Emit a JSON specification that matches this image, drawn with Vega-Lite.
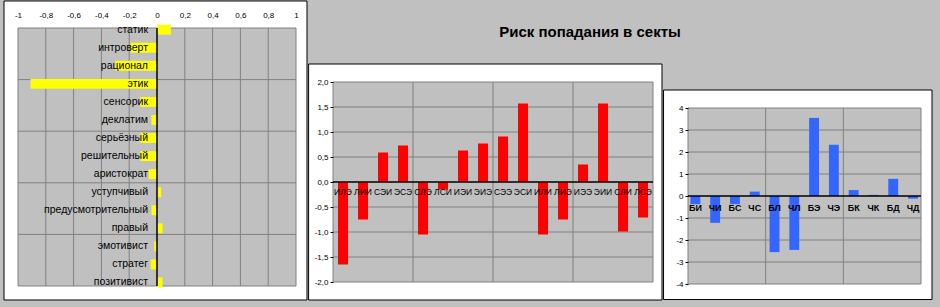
{
  "$schema": "https://vega.github.io/schema/vega-lite/v6.json",
  "background": "#c0c0c0",
  "padding": 0,
  "bounds": "flush",
  "spacing": 0,
  "config": {
    "view": {"stroke": null},
    "font": "Liberation Sans",
    "axis": {"labelFont": "Liberation Sans", "labelColor": "#000000", "labelFontSize": 8, "grid": false, "domain": false}
  },
  "datasets": {
    "traits": [
      {"trait": "статик", "v": 0.10},
      {"trait": "интроверт", "v": -0.19},
      {"trait": "рационал", "v": -0.30},
      {"trait": "этик", "v": -0.91},
      {"trait": "сенсорик", "v": -0.12},
      {"trait": "деклатим", "v": -0.04},
      {"trait": "серьёзный", "v": -0.12},
      {"trait": "решительный", "v": -0.12},
      {"trait": "аристократ", "v": -0.06},
      {"trait": "уступчивый", "v": 0.03},
      {"trait": "предусмотрительный", "v": -0.04},
      {"trait": "правый", "v": 0.04},
      {"trait": "эмотивист", "v": -0.02},
      {"trait": "стратег", "v": -0.045},
      {"trait": "позитивист", "v": 0.04}
    ],
    "socio": [
      {"t": "ИЛЭ", "v": -1.65},
      {"t": "ЛИИ", "v": -0.75},
      {"t": "СЭИ", "v": 0.59},
      {"t": "ЭСЭ", "v": 0.73},
      {"t": "СЛЭ", "v": -1.05},
      {"t": "ЛСИ", "v": -0.15},
      {"t": "ИЭИ", "v": 0.63},
      {"t": "ЭИЭ", "v": 0.77},
      {"t": "СЭЭ", "v": 0.91},
      {"t": "ЭСИ", "v": 1.57},
      {"t": "ИЛИ", "v": -1.05},
      {"t": "ЛИЭ", "v": -0.75},
      {"t": "ИЭЭ", "v": 0.35},
      {"t": "ЭИИ", "v": 1.57},
      {"t": "СЛИ", "v": -0.99},
      {"t": "ЛСЭ", "v": -0.71}
    ],
    "dich": [
      {"d": "БИ", "v": -0.37},
      {"d": "ЧИ", "v": -1.22},
      {"d": "БС", "v": -0.37},
      {"d": "ЧС", "v": 0.2},
      {"d": "БЛ", "v": -2.55},
      {"d": "ЧЛ", "v": -2.45},
      {"d": "БЭ", "v": 3.55},
      {"d": "ЧЭ", "v": 2.33},
      {"d": "БК", "v": 0.27},
      {"d": "ЧК", "v": 0.05},
      {"d": "БД", "v": 0.78},
      {"d": "ЧД", "v": -0.12}
    ]
  },
  "hconcat": [
    {
      "width": 308,
      "height": 307,
      "layer": [
        {
          "data": {"values": [{}]},
          "layer": [
            {
              "mark": {"type": "rect", "fill": "#ffffff", "stroke": "#000000", "strokeWidth": 1},
              "encoding": {
                "x": {"datum": -1.1007, "type": "quantitative", "scale": {"domain": [-1.1295, 1.0863], "nice": false, "zero": false}},
                "x2": {"datum": 1.0791},
                "y": {"datum": -0.814, "type": "quantitative", "scale": {"domain": [-1.221, 16.628], "nice": false, "zero": false}, "axis": null},
                "y2": {"datum": 16.57}
              }
            },
            {
              "mark": {"type": "rect", "fill": "#c0c0c0", "stroke": "#808080", "strokeWidth": 1},
              "encoding": {
                "x": {"datum": -1, "type": "quantitative", "scale": {"domain": [-1.1295, 1.0863], "nice": false, "zero": false}},
                "x2": {"datum": 1},
                "y": {"datum": 0, "type": "quantitative", "scale": {"domain": [-1.221, 16.628], "nice": false, "zero": false}, "axis": null},
                "y2": {"datum": 15}
              }
            },
            {
              "data": {"values": [{"g": -0.8}, {"g": -0.6}, {"g": -0.4}, {"g": -0.2}, {"g": 0.2}, {"g": 0.4}, {"g": 0.6}, {"g": 0.8}]},
              "mark": {"type": "rule", "stroke": "#808080", "strokeWidth": 1},
              "encoding": {
                "x": {"field": "g", "type": "quantitative", "scale": {"domain": [-1.1295, 1.0863], "nice": false, "zero": false}},
                "y": {"datum": 0, "type": "quantitative", "scale": {"domain": [-1.221, 16.628], "nice": false, "zero": false}, "axis": null},
                "y2": {"datum": 15}
              }
            },
            {
              "data": {"values": [{"g": 3}, {"g": 6}, {"g": 9}, {"g": 12}]},
              "mark": {"type": "rule", "stroke": "#808080", "strokeWidth": 1},
              "encoding": {
                "y": {"field": "g", "type": "quantitative", "scale": {"domain": [-1.221, 16.628], "nice": false, "zero": false}, "axis": null},
                "x": {"datum": -1, "type": "quantitative", "scale": {"domain": [-1.1295, 1.0863], "nice": false, "zero": false}},
                "x2": {"datum": 1}
              }
            }
          ]
        },
        {
          "data": {"name": "traits"},
          "layer": [
            {
              "mark": {"type": "bar", "color": "#ffff00", "height": {"band": 0.55}},
              "encoding": {
                "y": {"field": "trait", "type": "nominal", "sort": null, "scale": {"paddingInner": 0, "paddingOuter": 1.4244, "align": 0.5714}, "axis": null},
                "x": {
                  "field": "v", "type": "quantitative",
                  "scale": {"domain": [-1.1295, 1.0863], "nice": false, "zero": false},
                  "axis": {
                    "orient": "top", "offset": -21, "ticks": false, "labelPadding": 2, "zindex": 2, "title": null,
                    "labelOverlap": false, "labelFlush": false, "labelBound": false, "tickCount": 30,
                    "values": [-1, -0.8, -0.6, -0.4, -0.2, 0, 0.2, 0.4, 0.6, 0.8, 1],
                    "labelExpr": "replace(replace(format(datum.value, '.1~f'), '.', ','), '−', '-')"
                  }
                }
              }
            },
            {
              "mark": {"type": "text", "align": "right", "baseline": "middle", "dx": -9, "fontSize": 10.5, "color": "#000000", "font": "Liberation Sans"},
              "encoding": {
                "y": {"field": "trait", "type": "nominal", "sort": null, "scale": {"paddingInner": 0, "paddingOuter": 1.4244, "align": 0.5714}, "axis": null},
                "x": {"datum": 0, "type": "quantitative", "scale": {"domain": [-1.1295, 1.0863], "nice": false, "zero": false}},
                "text": {"field": "trait"}
              }
            }
          ]
        },
        {
          "data": {"values": [{}]},
          "mark": {"type": "rule", "stroke": "#000000", "strokeWidth": 1.5},
          "encoding": {
            "x": {"datum": 0, "type": "quantitative", "scale": {"domain": [-1.1295, 1.0863], "nice": false, "zero": false}},
            "y": {"datum": 0, "type": "quantitative", "scale": {"domain": [-1.221, 16.628], "nice": false, "zero": false}, "axis": null},
            "y2": {"datum": 15}
          }
        }
      ],
      "resolve": {"scale": {"y": "independent"}}
    },
    {
      "width": 355,
      "height": 307,
      "title": {"text": "Риск попадания в секты", "fontSize": 15, "fontWeight": "bold", "font": "Liberation Sans", "color": "#000000", "anchor": "middle", "frame": "group", "dx": 104.5, "offset": -40},
      "layer": [
        {
          "data": {"values": [{}]},
          "layer": [
            {
              "mark": {"type": "rect", "fill": "#ffffff", "stroke": "#000000", "strokeWidth": 1},
              "encoding": {
                "x": {"datum": -1.22, "type": "quantitative", "scale": {"domain": [-1.25, 16.5], "nice": false, "zero": false}, "axis": null},
                "x2": {"datum": 16.45},
                "y": {"datum": -2.36, "type": "quantitative", "scale": {"domain": [-2.5, 3.64], "nice": false, "zero": false}},
                "y2": {"datum": 2.36}
              }
            },
            {
              "mark": {"type": "rect", "fill": "#c0c0c0", "stroke": "#808080", "strokeWidth": 1},
              "encoding": {
                "x": {"datum": 0, "type": "quantitative", "scale": {"domain": [-1.25, 16.5], "nice": false, "zero": false}, "axis": null},
                "x2": {"datum": 16},
                "y": {"datum": -2, "type": "quantitative", "scale": {"domain": [-2.5, 3.64], "nice": false, "zero": false}},
                "y2": {"datum": 2}
              }
            },
            {
              "data": {"values": [{"g": 4}, {"g": 8}, {"g": 12}]},
              "mark": {"type": "rule", "stroke": "#808080", "strokeWidth": 1},
              "encoding": {
                "x": {"field": "g", "type": "quantitative", "scale": {"domain": [-1.25, 16.5], "nice": false, "zero": false}, "axis": null},
                "y": {"datum": -2, "type": "quantitative", "scale": {"domain": [-2.5, 3.64], "nice": false, "zero": false}},
                "y2": {"datum": 2}
              }
            },
            {
              "data": {"values": [{"g": -1.5}, {"g": -1}, {"g": -0.5}, {"g": 0.5}, {"g": 1}, {"g": 1.5}]},
              "mark": {"type": "rule", "stroke": "#808080", "strokeWidth": 1},
              "encoding": {
                "y": {"field": "g", "type": "quantitative", "scale": {"domain": [-2.5, 3.64], "nice": false, "zero": false}},
                "x": {"datum": 0, "type": "quantitative", "scale": {"domain": [-1.25, 16.5], "nice": false, "zero": false}, "axis": null},
                "x2": {"datum": 16}
              }
            }
          ]
        },
        {
          "data": {"name": "socio"},
          "layer": [
            {
              "mark": {"type": "bar", "color": "#ff0000", "width": {"band": 0.5}},
              "encoding": {
                "x": {"field": "t", "type": "nominal", "sort": null, "scale": {"paddingInner": 0, "paddingOuter": 0.875, "align": 0.7143}, "axis": null},
                "y": {
                  "field": "v", "type": "quantitative",
                  "scale": {"domain": [-2.5, 3.64], "nice": false, "zero": false},
                  "axis": {
                    "orient": "left", "offset": -25, "ticks": true, "tickSize": 3, "tickColor": "#000000", "labelPadding": 2, "zindex": 2, "title": null,
                    "labelOverlap": false, "labelFlush": false, "labelBound": false, "tickCount": 30,
                    "values": [-2, -1.5, -1, -0.5, 0, 0.5, 1, 1.5, 2],
                    "labelExpr": "replace(replace(format(datum.value, '.1f'), '.', ','), '−', '-')"
                  }
                }
              }
            },
            {
              "mark": {"type": "text", "align": "center", "baseline": "top", "dy": 6, "fontSize": 8.5, "color": "#000000", "font": "Liberation Sans"},
              "encoding": {
                "x": {"field": "t", "type": "nominal", "sort": null, "scale": {"paddingInner": 0, "paddingOuter": 0.875, "align": 0.7143}, "axis": null},
                "y": {"datum": 0, "type": "quantitative", "scale": {"domain": [-2.5, 3.64], "nice": false, "zero": false}},
                "text": {"field": "t"}
              }
            }
          ]
        },
        {
          "data": {"values": [{}]},
          "mark": {"type": "rule", "stroke": "#000000", "strokeWidth": 1.5},
          "encoding": {
            "x": {"datum": 0, "type": "quantitative", "scale": {"domain": [-1.25, 16.5], "nice": false, "zero": false}, "axis": null},
            "x2": {"datum": 16},
            "y": {"datum": 0, "type": "quantitative", "scale": {"domain": [-2.5, 3.64], "nice": false, "zero": false}}
          }
        }
      ],
      "resolve": {"scale": {"x": "independent"}}
    },
    {
      "width": 277,
      "height": 307,
      "layer": [
        {
          "data": {"values": [{}]},
          "layer": [
            {
              "mark": {"type": "rect", "fill": "#ffffff", "stroke": "#000000", "strokeWidth": 1},
              "encoding": {
                "x": {"datum": -1.26, "type": "quantitative", "scale": {"domain": [-1.2875, 12.9785], "nice": false, "zero": false}, "axis": null},
                "x2": {"datum": 12.5665},
                "y": {"datum": -4.705, "type": "quantitative", "scale": {"domain": [-5.045, 8.909], "nice": false, "zero": false}},
                "y2": {"datum": 4.818}
              }
            },
            {
              "mark": {"type": "rect", "fill": "#c0c0c0", "stroke": "#808080", "strokeWidth": 1},
              "encoding": {
                "x": {"datum": 0, "type": "quantitative", "scale": {"domain": [-1.2875, 12.9785], "nice": false, "zero": false}, "axis": null},
                "x2": {"datum": 12},
                "y": {"datum": -4, "type": "quantitative", "scale": {"domain": [-5.045, 8.909], "nice": false, "zero": false}},
                "y2": {"datum": 4}
              }
            },
            {
              "data": {"values": [{"g": 4}, {"g": 8}]},
              "mark": {"type": "rule", "stroke": "#808080", "strokeWidth": 1},
              "encoding": {
                "x": {"field": "g", "type": "quantitative", "scale": {"domain": [-1.2875, 12.9785], "nice": false, "zero": false}, "axis": null},
                "y": {"datum": -4, "type": "quantitative", "scale": {"domain": [-5.045, 8.909], "nice": false, "zero": false}},
                "y2": {"datum": 4}
              }
            },
            {
              "data": {"values": [{"g": -3}, {"g": -2}, {"g": -1}, {"g": 1}, {"g": 2}, {"g": 3}]},
              "mark": {"type": "rule", "stroke": "#808080", "strokeWidth": 1},
              "encoding": {
                "y": {"field": "g", "type": "quantitative", "scale": {"domain": [-5.045, 8.909], "nice": false, "zero": false}},
                "x": {"datum": 0, "type": "quantitative", "scale": {"domain": [-1.2875, 12.9785], "nice": false, "zero": false}, "axis": null},
                "x2": {"datum": 12}
              }
            }
          ]
        },
        {
          "data": {"name": "dich"},
          "layer": [
            {
              "mark": {"type": "bar", "color": "#3366ff", "width": {"band": 0.5}},
              "encoding": {
                "x": {"field": "d", "type": "nominal", "sort": null, "scale": {"paddingInner": 0, "paddingOuter": 1.133, "align": 0.5682}, "axis": null},
                "y": {
                  "field": "v", "type": "quantitative",
                  "scale": {"domain": [-5.045, 8.909], "nice": false, "zero": false},
                  "axis": {
                    "orient": "left", "offset": -25, "ticks": true, "tickSize": 3, "tickColor": "#000000", "labelPadding": 2, "zindex": 2, "title": null,
                    "labelOverlap": false, "labelFlush": false, "labelBound": false, "tickCount": 30,
                    "values": [-4, -3, -2, -1, 0, 1, 2, 3, 4],
                    "labelExpr": "replace(format(datum.value, 'd'), '−', '-')"
                  }
                }
              }
            },
            {
              "mark": {"type": "text", "align": "center", "baseline": "top", "dy": 8, "fontSize": 9, "fontWeight": "bold", "color": "#000000", "font": "Liberation Sans"},
              "encoding": {
                "x": {"field": "d", "type": "nominal", "sort": null, "scale": {"paddingInner": 0, "paddingOuter": 1.133, "align": 0.5682}, "axis": null},
                "y": {"datum": 0, "type": "quantitative", "scale": {"domain": [-5.045, 8.909], "nice": false, "zero": false}},
                "text": {"field": "d"}
              }
            }
          ]
        },
        {
          "data": {"values": [{}]},
          "mark": {"type": "rule", "stroke": "#000000", "strokeWidth": 1.5},
          "encoding": {
            "x": {"datum": 0, "type": "quantitative", "scale": {"domain": [-1.2875, 12.9785], "nice": false, "zero": false}, "axis": null},
            "x2": {"datum": 12},
            "y": {"datum": 0, "type": "quantitative", "scale": {"domain": [-5.045, 8.909], "nice": false, "zero": false}}
          }
        }
      ],
      "resolve": {"scale": {"x": "independent"}}
    }
  ]
}
